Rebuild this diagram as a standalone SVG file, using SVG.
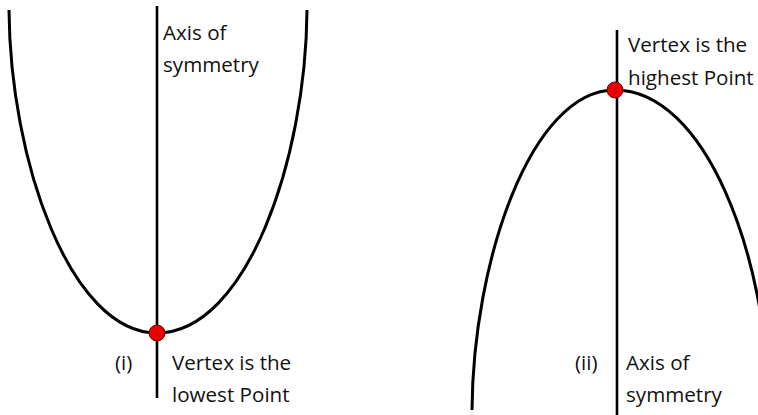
<svg xmlns="http://www.w3.org/2000/svg" width="758" height="415" viewBox="0 0 758 415">
<style>
.curve{fill:none;stroke:#000;stroke-width:3;stroke-linecap:butt}
.axis{stroke:#000;stroke-width:2.6}
.dot{fill:#e60000;stroke:#7a0000;stroke-width:1}
text{font-family:"Open Sans","Liberation Sans",sans-serif;font-size:20.6px;fill:#111}
</style>
<rect width="758" height="415" fill="#fff"/>
<g id="connectors">
<path id="parabola-i" class="curve" d="M9,10 C10,160 70,333 157,333 C246,333 306,160 307,10"/>
<line id="axis-i" class="axis" x1="157" y1="6" x2="157" y2="398"/>
<path id="parabola-ii" class="curve" d="M472,410 C473,261 531,90 615,90 C705,90 768,255 769,410"/>
<line id="axis-ii" class="axis" x1="617" y1="30" x2="617" y2="415"/>
</g>
<g id="vertex-i"><circle class="dot" cx="157" cy="333" r="8"/></g>
<g id="vertex-ii"><circle class="dot" cx="615" cy="90" r="8"/></g>
<g id="label-axis-i">
<text x="163" y="40">Axis of</text>
<text x="163" y="72">symmetry</text>
</g>
<g id="label-i"><text x="115" y="370">(i)</text></g>
<g id="label-vertex-i">
<text x="172" y="370">Vertex is the</text>
<text x="172" y="402">lowest Point</text>
</g>
<g id="label-vertex-ii">
<text x="628" y="52">Vertex is the</text>
<text x="628" y="85">highest Point</text>
</g>
<g id="label-ii"><text x="575" y="370">(ii)</text></g>
<g id="label-axis-ii">
<text x="626" y="370">Axis of</text>
<text x="626" y="402">symmetry</text>
</g>
</svg>
